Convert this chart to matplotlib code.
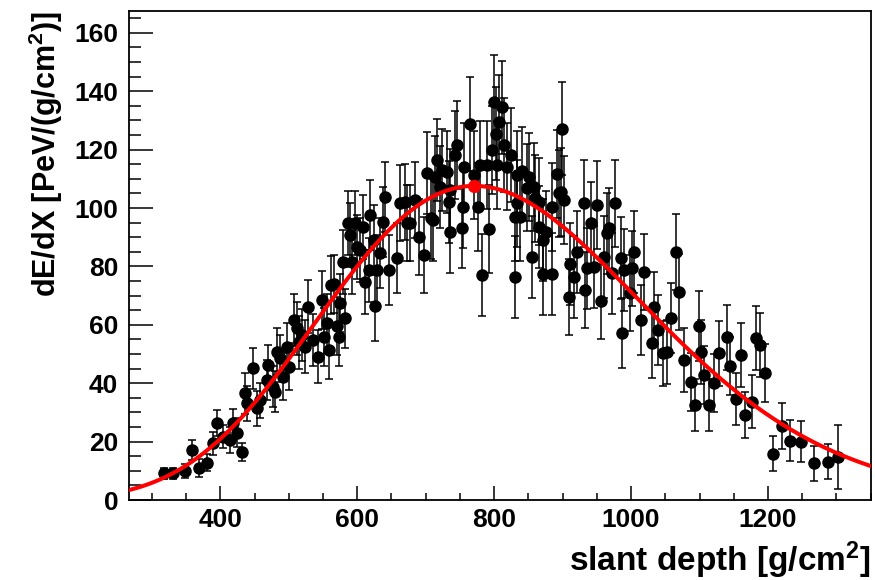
import numpy as np
import matplotlib
matplotlib.use("Agg")
import matplotlib.pyplot as plt
from matplotlib.ticker import MultipleLocator

plt.rcParams['font.family'] = ['Liberation Sans', 'DejaVu Sans']
plt.rcParams['font.weight'] = 'bold'
plt.rcParams['mathtext.fontset'] = 'custom'
plt.rcParams['mathtext.rm'] = 'Liberation Sans:bold'
plt.rcParams['mathtext.it'] = 'Liberation Sans:bold'
plt.rcParams['mathtext.bf'] = 'Liberation Sans:bold'
plt.rcParams['mathtext.default'] = 'rm'

# ---- data ----
depth = [317, 331, 348, 358, 369, 381, 389, 395, 404, 414, 419, 425, 431, 436, 439,
         448, 453, 458, 468, 470, 477, 480, 483, 487, 492, 497, 500, 507, 512, 515,
         519, 524, 528, 536, 543, 548, 551, 556, 558, 561, 566, 570, 573, 575, 579,
         582, 587, 590, 592, 597, 600, 604, 609, 612, 617, 619, 624, 626, 629, 633,
         638, 641, 646, 658, 663, 670, 673, 677, 685, 690, 697, 702, 707, 711, 714,
         717, 721, 724, 731, 734, 736, 736, 743, 746, 753, 755, 756, 765, 770, 777,
         780, 782, 790, 792, 797, 800, 802, 804, 807, 811, 814, 819, 824, 831, 831,
         833, 834, 838, 841, 848, 851, 855, 858, 860, 865, 865, 872, 872, 875, 885,
         885, 892, 894, 897, 899, 902, 909, 911, 916, 921, 931, 933, 936, 941, 946,
         950, 956, 960, 965, 967, 972, 977, 985, 987, 989, 999, 1002, 1004, 1014, 1019,
         1031, 1033, 1040, 1046, 1053, 1058, 1065, 1070, 1077, 1087, 1094, 1099, 1102, 1107, 1114,
         1121, 1128, 1140, 1145, 1153, 1160, 1167, 1177, 1182, 1189, 1196, 1208, 1220, 1232, 1248,
         1267, 1288, 1302]
dedx = [9.1, 9.1, 10.0, 17.1, 10.9, 12.8, 19.4, 26.3, 21.7, 20.5, 26.3, 23.0, 16.5, 36.5, 33.1,
        45.1, 31.4, 34.2, 41.1, 46.2, 38.8, 37.1, 50.8, 48.5, 42.2, 52.5, 45.7, 61.6, 58.8, 54.0,
        56.5, 52.5, 66.2, 54.8, 49.1, 68.5, 55.9, 60.5, 51.4, 73.6, 74.0, 59.6, 56.0, 67.4, 81.6,
        62.2, 94.8, 90.8, 81.6, 94.8, 86.7, 85.6, 93.6, 74.8, 78.8, 97.6, 89.0, 66.6, 78.8, 84.5,
        95.3, 103.9, 78.8, 82.8, 101.6, 102.2, 94.8, 94.8, 102.7, 90.2, 83.9, 111.9, 96.5, 95.9, 110.7,
        116.4, 107.3, 113.0, 112.4, 102.2, 106.2, 91.9, 118.2, 121.6, 93.3, 100.4, 114.2, 128.8, 111.3, 100.4,
        114.7, 77.0, 114.7, 92.8, 119.9, 136.5, 125.5, 114.7, 129.6, 134.5, 121.6, 114.2, 118.2, 76.5, 97.0,
        101.6, 111.3, 97.0, 112.7, 107.0, 110.7, 83.3, 107.3, 103.3, 102.2, 93.6, 77.3, 89.0, 91.9, 77.3,
        100.4, 111.6, 105.0, 105.6, 127.2, 102.7, 69.6, 80.8, 76.5, 85.0, 101.6, 71.9, 79.3, 94.8, 79.9,
        101.0, 68.0, 83.3, 91.3, 93.0, 77.6, 101.6, 82.8, 57.1, 78.8, 70.8, 79.3, 85.0, 61.6, 78.2,
        53.7, 66.2, 58.2, 50.2, 50.8, 62.2, 85.0, 71.3, 47.9, 40.5, 32.5, 59.6, 50.8, 42.8, 32.5,
        40.0, 50.2, 55.7, 46.0, 34.6, 49.7, 29.1, 33.7, 55.4, 53.1, 43.6, 15.8, 25.3, 20.3, 20.0,
        12.6, 13.1, 14.6]
err = [2, 2, 2.5, 3.5, 3, 3, 4, 4.5, 4, 4.5, 5, 5, 3, 7, 6,
       7, 6, 6, 7, 7, 7, 7, 8, 8, 8, 8, 8, 9, 9, 9,
       9, 9, 9, 9, 9, 10, 10, 10, 10, 10, 10, 10, 10, 10, 11,
       10, 11, 11, 11, 11, 11, 11, 11, 11, 11, 12, 12, 12, 12, 12,
       12, 12, 12, 12, 13, 13, 13, 13, 13, 13, 13, 14, 14, 14, 14,
       14, 14, 14, 14, 14, 14, 14, 15, 15, 14, 14, 15, 16, 15, 15,
       15, 14, 15, 15, 15, 16, 16, 15, 16, 16, 16, 15, 16, 14, 15,
       15, 15, 15, 15, 15, 15, 14, 15, 15, 15, 14, 14, 14, 14, 14,
       15, 15, 15, 15, 16, 15, 13, 14, 14, 14, 15, 13, 14, 14, 14,
       15, 13, 14, 14, 14, 14, 15, 14, 12, 14, 13, 13, 14, 12, 13,
       12, 12, 12, 11, 11, 12, 13, 13, 11, 10, 9, 12, 11, 10, 9,
       10, 11, 11, 10, 9, 11, 8, 9, 11, 11, 10, 6, 8, 7, 7,
       6, 6, 11]

# Gaisser-Hillas fit parameters
nmax = 107.6
xmax = 771.0
x0 = -279.0
lam = 53.0

xlim = (267, 1350)
ylim = (0, 167.5)

fig = plt.figure(figsize=(8.75, 5.8), dpi=100)
ax = fig.add_axes([129.3 / 875, 80 / 580, (870.7 - 129.3) / 875, (500 - 11) / 580])

ax.errorbar(depth, dedx, yerr=err, fmt='o', color='black', ms=8,
            elinewidth=1.1, capsize=3, capthick=1.1, zorder=2)

xx = np.linspace(xlim[0], xlim[1], 600)
gh = nmax * ((xx - x0) / (xmax - x0)) ** ((xmax - x0) / lam) * np.exp((xmax - xx) / lam)
ax.plot(xx, gh, color='red', lw=2.9, zorder=3)
ax.plot([xmax], [nmax], 'o', color='red', ms=8.5, zorder=4)

ax.set_xlim(*xlim)
ax.set_ylim(*ylim)
ax.xaxis.set_major_locator(MultipleLocator(200))
ax.xaxis.set_minor_locator(MultipleLocator(50))
ax.yaxis.set_major_locator(MultipleLocator(20))
ax.yaxis.set_minor_locator(MultipleLocator(5))
ax.tick_params(axis='both', which='both', direction='in', top=False, right=False,
               width=1.1)
ax.tick_params(axis='x', which='major', length=10, pad=6, labelsize=19)
ax.tick_params(axis='x', which='minor', length=5)
ax.tick_params(axis='y', which='major', length=17, pad=8, labelsize=19)
ax.tick_params(axis='y', which='minor', length=8.5)
for lab in ax.get_xticklabels() + ax.get_yticklabels():
    lab.set_fontweight('bold')
for s in ax.spines.values():
    s.set_linewidth(1.3)

ax.set_xlabel('slant depth [g/cm$^{2}$]', fontsize=24, fontweight='bold', loc='right')
ax.set_ylabel('dE/dX [PeV/(g/cm$^{2}$)]', fontsize=22, fontweight='bold', loc='top')
ax.xaxis.set_label_coords(1.0, -0.08)
ax.yaxis.set_label_coords(-0.087, 1.0)

fig.savefig('out.png', dpi=100)
